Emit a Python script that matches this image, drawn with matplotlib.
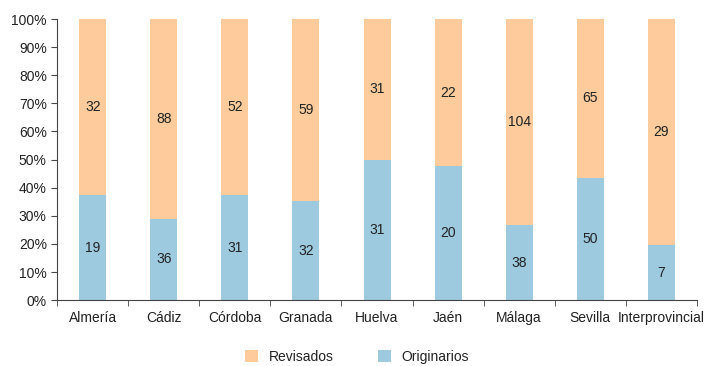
import numpy as np
import matplotlib.pyplot as plt
from matplotlib.ticker import PercentFormatter

plt.rcParams['font.family'] = ['Liberation Sans', 'DejaVu Sans']

provincias = ['Almería', 'Cádiz', 'Córdoba', 'Granada', 'Huelva', 'Jaén',
              'Málaga', 'Sevilla', 'Interprovincial']
originarios = [19, 36, 31, 32, 31, 20, 38, 50, 7]
revisados = [32, 88, 52, 59, 31, 22, 104, 65, 29]

orig = np.array(originarios, dtype=float)
rev = np.array(revisados, dtype=float)
total = orig + rev
p_orig = orig / total * 100
p_rev = rev / total * 100

c_orig = '#9ecae0'
c_rev = '#fdcb9c'
txt = '#222222'

fig = plt.figure(figsize=(7.06, 3.66), dpi=100)
ax = fig.add_axes([0.081, 0.180, 0.906, 0.768])

x = np.arange(len(provincias))
w = 0.38
ax.bar(x, p_orig, w, color=c_orig, label='Originarios')
ax.bar(x, p_rev, w, bottom=p_orig, color=c_rev, label='Revisados')

for i in range(len(x)):
    ax.text(x[i], p_orig[i] / 2, str(originarios[i]), ha='center', va='center',
            fontsize=10, color=txt)
    ax.text(x[i], p_orig[i] + p_rev[i] / 2, str(revisados[i]), ha='center',
            va='center', fontsize=10, color=txt)

ax.set_xlim(-0.5, len(x) - 0.5)
ax.set_ylim(0, 100)
ax.set_yticks(np.arange(0, 101, 10))
ax.yaxis.set_major_formatter(PercentFormatter(decimals=0))
ax.set_xticks(x)
ax.set_xticklabels(provincias)
ax.set_xticks(np.arange(-0.5, len(x), 1), minor=True)
ax.tick_params(axis='x', which='major', length=0, pad=8, labelsize=10, labelcolor=txt)
ax.tick_params(axis='x', which='minor', length=4, color='#444444')
ax.tick_params(axis='y', length=4, color='#444444', labelsize=10, labelcolor=txt)

for s in ['top', 'right']:
    ax.spines[s].set_visible(False)
for s in ['left', 'bottom']:
    ax.spines[s].set_color('#444444')

h, l = ax.get_legend_handles_labels()
fig.legend(h[::-1], l[::-1], loc='lower center', bbox_to_anchor=(0.506, -0.028),
           ncol=2, frameon=False, fontsize=10, handlelength=0.9, handleheight=0.9,
           handletextpad=0.8, columnspacing=3.2, labelcolor=txt)

fig.savefig('out.png', dpi=100)
